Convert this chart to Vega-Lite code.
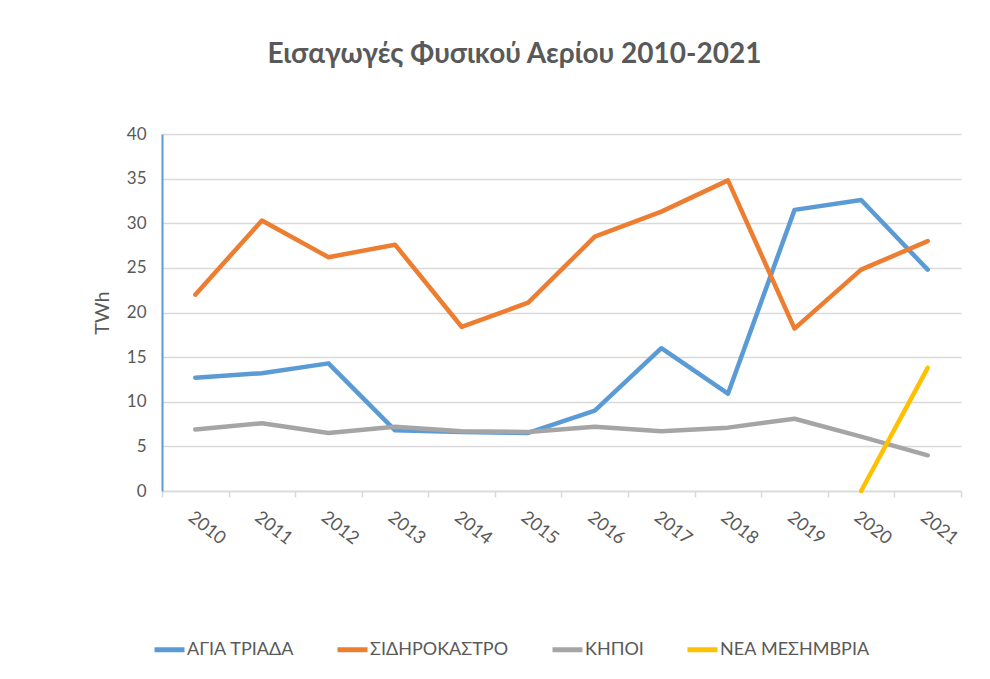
{
  "$schema": "https://vega.github.io/schema/vega-lite/v6.json",
  "width": 799,
  "height": 357,
  "autosize": {"type": "none"},
  "padding": {"left": 162, "top": 134, "right": 29, "bottom": 188},
  "background": "white",
  "config": {
    "view": {"stroke": null},
    "font": "Lato"
  },
  "title": {
    "text": "Εισαγωγές Φυσικού Αερίου 2010-2021",
    "font": "Lato",
    "fontSize": 28,
    "fontWeight": "bold",
    "color": "#595959",
    "anchor": "middle",
    "dx": -47,
    "offset": 56
  },
  "data": {
    "values": [
      {"year": "2010", "station": "ΑΓΙΑ ΤΡΙΑΔΑ", "twh": 12.7},
      {"year": "2011", "station": "ΑΓΙΑ ΤΡΙΑΔΑ", "twh": 13.2},
      {"year": "2012", "station": "ΑΓΙΑ ΤΡΙΑΔΑ", "twh": 14.3},
      {"year": "2013", "station": "ΑΓΙΑ ΤΡΙΑΔΑ", "twh": 6.8},
      {"year": "2014", "station": "ΑΓΙΑ ΤΡΙΑΔΑ", "twh": 6.6},
      {"year": "2015", "station": "ΑΓΙΑ ΤΡΙΑΔΑ", "twh": 6.5},
      {"year": "2016", "station": "ΑΓΙΑ ΤΡΙΑΔΑ", "twh": 9.0},
      {"year": "2017", "station": "ΑΓΙΑ ΤΡΙΑΔΑ", "twh": 16.0},
      {"year": "2018", "station": "ΑΓΙΑ ΤΡΙΑΔΑ", "twh": 10.9},
      {"year": "2019", "station": "ΑΓΙΑ ΤΡΙΑΔΑ", "twh": 31.5},
      {"year": "2020", "station": "ΑΓΙΑ ΤΡΙΑΔΑ", "twh": 32.6},
      {"year": "2021", "station": "ΑΓΙΑ ΤΡΙΑΔΑ", "twh": 24.8},
      {"year": "2010", "station": "ΣΙΔΗΡΟΚΑΣΤΡΟ", "twh": 22.0},
      {"year": "2011", "station": "ΣΙΔΗΡΟΚΑΣΤΡΟ", "twh": 30.3},
      {"year": "2012", "station": "ΣΙΔΗΡΟΚΑΣΤΡΟ", "twh": 26.2},
      {"year": "2013", "station": "ΣΙΔΗΡΟΚΑΣΤΡΟ", "twh": 27.6},
      {"year": "2014", "station": "ΣΙΔΗΡΟΚΑΣΤΡΟ", "twh": 18.4},
      {"year": "2015", "station": "ΣΙΔΗΡΟΚΑΣΤΡΟ", "twh": 21.1},
      {"year": "2016", "station": "ΣΙΔΗΡΟΚΑΣΤΡΟ", "twh": 28.5},
      {"year": "2017", "station": "ΣΙΔΗΡΟΚΑΣΤΡΟ", "twh": 31.3},
      {"year": "2018", "station": "ΣΙΔΗΡΟΚΑΣΤΡΟ", "twh": 34.8},
      {"year": "2019", "station": "ΣΙΔΗΡΟΚΑΣΤΡΟ", "twh": 18.2},
      {"year": "2020", "station": "ΣΙΔΗΡΟΚΑΣΤΡΟ", "twh": 24.8},
      {"year": "2021", "station": "ΣΙΔΗΡΟΚΑΣΤΡΟ", "twh": 28.0},
      {"year": "2010", "station": "ΚΗΠΟΙ", "twh": 6.9},
      {"year": "2011", "station": "ΚΗΠΟΙ", "twh": 7.6},
      {"year": "2012", "station": "ΚΗΠΟΙ", "twh": 6.5},
      {"year": "2013", "station": "ΚΗΠΟΙ", "twh": 7.2},
      {"year": "2014", "station": "ΚΗΠΟΙ", "twh": 6.7},
      {"year": "2015", "station": "ΚΗΠΟΙ", "twh": 6.6},
      {"year": "2016", "station": "ΚΗΠΟΙ", "twh": 7.2},
      {"year": "2017", "station": "ΚΗΠΟΙ", "twh": 6.7},
      {"year": "2018", "station": "ΚΗΠΟΙ", "twh": 7.1},
      {"year": "2019", "station": "ΚΗΠΟΙ", "twh": 8.1},
      {"year": "2020", "station": "ΚΗΠΟΙ", "twh": 6.1},
      {"year": "2021", "station": "ΚΗΠΟΙ", "twh": 4.0},
      {"year": "2020", "station": "ΝΕΑ ΜΕΣΗΜΒΡΙΑ", "twh": 0.0},
      {"year": "2021", "station": "ΝΕΑ ΜΕΣΗΜΒΡΙΑ", "twh": 13.8}
    ]
  },
  "mark": {"type": "line", "strokeWidth": 4.5, "strokeCap": "round", "strokeJoin": "round", "clip": false},
  "encoding": {
    "x": {
      "field": "year",
      "type": "ordinal",
      "sort": ["2010","2011","2012","2013","2014","2015","2016","2017","2018","2019","2020","2021"],
      "scale": {"domain": ["2010","2011","2012","2013","2014","2015","2016","2017","2018","2019","2020","2021"], "paddingInner": 0, "paddingOuter": 0},
      "axis": {
        "title": null,
        "labelAngle": 38,
        "labelAlign": "left",
        "labelBaseline": "top",
        "labelPadding": 11,
        "labelFontSize": 18,
        "labelColor": "#595959",
        "labelFont": "Lato",
        "tickBand": "extent",
        "tickColor": "#D9D9D9",
        "tickSize": 6,
        "tickWidth": 1.5,
        "domainColor": "#D9D9D9",
        "domainWidth": 1.5,
        "grid": false
      }
    },
    "y": {
      "field": "twh",
      "type": "quantitative",
      "scale": {"domain": [0, 40], "nice": false},
      "axis": {
        "title": "TWh",
        "titleFontSize": 20,
        "titleFontWeight": "normal",
        "titleColor": "#595959",
        "titleFont": "Lato",
        "titlePadding": 14,
        "values": [0, 5, 10, 15, 20, 25, 30, 35, 40],
        "labelFontSize": 17,
        "labelColor": "#595959",
        "labelFont": "Lato",
        "labelPadding": 16,
        "ticks": false,
        "grid": true,
        "gridColor": "#D9D9D9",
        "gridWidth": 1.5,
        "domainColor": "#5B9BD5",
        "domainWidth": 2
      }
    },
    "color": {
      "field": "station",
      "type": "nominal",
      "scale": {
        "domain": ["ΑΓΙΑ ΤΡΙΑΔΑ", "ΣΙΔΗΡΟΚΑΣΤΡΟ", "ΚΗΠΟΙ", "ΝΕΑ ΜΕΣΗΜΒΡΙΑ"],
        "range": ["#5B9BD5", "#ED7D31", "#A5A5A5", "#FFC000"]
      },
      "legend": {
        "title": null,
        "orient": "none",
        "direction": "horizontal",
        "legendX": -10,
        "legendY": 498,
        "symbolType": "stroke",
        "symbolSize": 900,
        "symbolStrokeWidth": 5,
        "labelFontSize": 18,
        "labelColor": "#595959",
        "labelFont": "Lato",
        "labelOffset": 0,
        "columnPadding": 33
      }
    }
  }
}
